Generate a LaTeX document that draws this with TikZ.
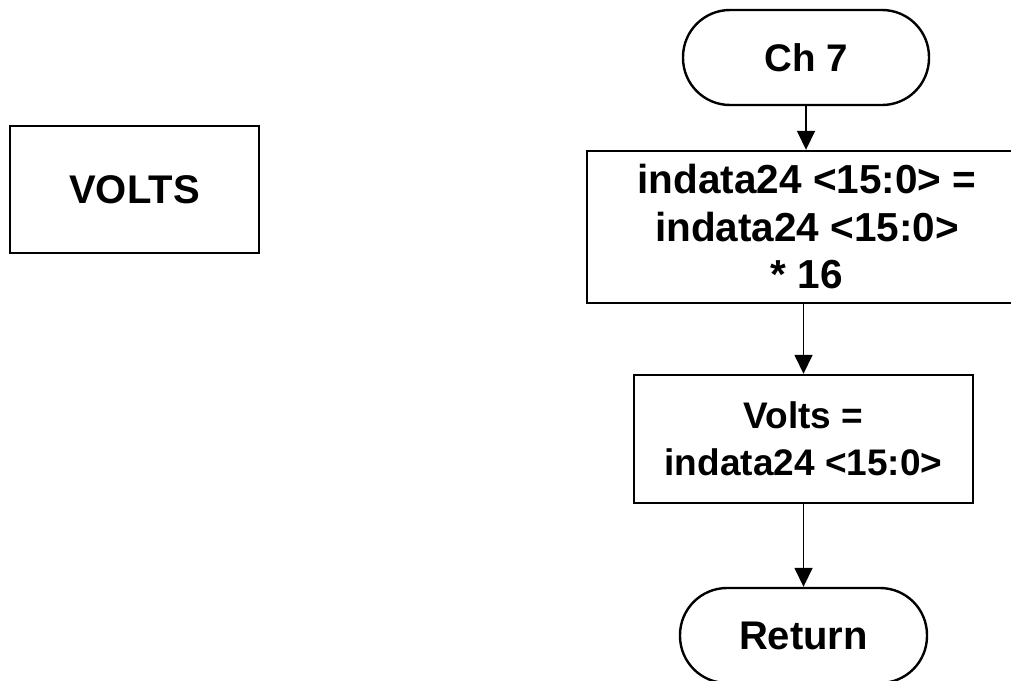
\documentclass[tikz,border=0pt]{standalone}
\usepackage{fontspec}
\setmainfont{Liberation Sans}
\usetikzlibrary{arrows.meta}
\tikzset{
  base/.style={draw, line width=2.4pt, inner sep=0pt, align=center, font=\bfseries},
  procbox/.style={base, rectangle},
  termbox/.style={base, rectangle, rounded corners=47pt},
  flow/.style={line width=1.6pt, -{Triangle[length=19pt,width=18pt]}},
}
\begin{document}
\begin{tikzpicture}[x=1pt,y=-1pt]
\useasboundingbox (0,0) rectangle (1011,680);
\node[procbox, minimum width=249pt, minimum height=127pt, font=\bfseries\fontsize{40}{47.5}\selectfont] (volts) at (134.5,189.5) {VOLTS};
\node[termbox, minimum width=246pt, minimum height=95pt, font=\bfseries\fontsize{38.5}{45}\selectfont] (ch7) at (806,57.5) {Ch 7};
\node[procbox, minimum width=440pt, minimum height=152pt, font=\bfseries\fontsize{40.5}{47.5}\selectfont] (calc) at (807,227) {indata24 <15:0> =\\indata24 <15:0>\\* 16};
\node[procbox, minimum width=339pt, minimum height=128pt, font=\bfseries\fontsize{37}{47}\selectfont] (assign) at (803.5,439) {Volts =\\indata24 <15:0>};
\node[termbox, minimum width=247pt, minimum height=95pt, font=\bfseries\fontsize{40}{47.5}\selectfont] (ret) at (803.5,635.5) {Return};
\draw[flow] (ch7.south) -- (ch7.south |- calc.north);
\draw[flow] (assign.north |- calc.south) -- (assign.north);
\draw[flow] (assign.south) -- (ret.north);
\end{tikzpicture}
\end{document}
